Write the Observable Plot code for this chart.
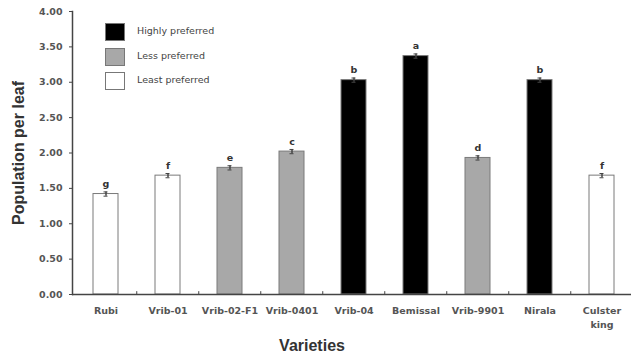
<!DOCTYPE html>
<html>
<head>
<meta charset="utf-8">
<script src="https://cdn.jsdelivr.net/npm/d3@7"></script>
<script src="https://cdn.jsdelivr.net/npm/@observablehq/plot@0.6"></script>
<style>
  html, body { margin: 0; padding: 0; background: #fff; }
  #wrap { position: relative; width: 631px; height: 358px; overflow: hidden; font-family: "Liberation Sans", Arial, sans-serif; }
  .legend { position: absolute; left: 105px; top: 23px; }
  .legend .item { position: absolute; left: 0; width: 200px; height: 18px; }
  .legend .box { position: absolute; left: 0; top: 0; width: 18px; height: 16px; border: 1px solid #777; }
  .legend .lbl { position: absolute; left: 32px; top: 2px; font-family: "DejaVu Sans", sans-serif; font-size: 9.5px; color: #444; white-space: nowrap; }
</style>
</head>
<body>
<div id="wrap"></div>
<script>
const varieties = ["Rubi", "Vrib-01", "Vrib-02-F1", "Vrib-0401", "Vrib-04", "Bemissal", "Vrib-9901", "Nirala", "Culster king"];
const population = [1.42, 1.68, 1.79, 2.02, 3.03, 3.37, 1.93, 3.03, 1.68];
const stdError = [0.03, 0.03, 0.03, 0.03, 0.03, 0.03, 0.03, 0.03, 0.03];
const letters = ["g", "f", "e", "c", "b", "a", "d", "b", "f"];
const groups = ["Least preferred", "Least preferred", "Less preferred", "Less preferred", "Highly preferred", "Highly preferred", "Less preferred", "Highly preferred", "Least preferred"];
const groupNames = ["Highly preferred", "Less preferred", "Least preferred"];
const groupColors = ["#000000", "#a8a8a8", "#ffffff"];
const yTicks = [0, 0.5, 1, 1.5, 2, 2.5, 3, 3.5, 4];

const data = varieties.map((v, i) => ({
  variety: v, value: population[i], err: stdError[i], letter: letters[i], group: groups[i]
}));

const font = "Liberation Sans, Arial, sans-serif";
const tickFont = "DejaVu Sans, sans-serif";

const chart = Plot.plot({
  width: 631,
  height: 358,
  marginLeft: 72,
  marginRight: 0,
  marginTop: 11,
  marginBottom: 64,
  style: { fontFamily: font, background: "#fff", overflow: "visible" },
  x: { domain: varieties, range: [72, 634.5], paddingInner: 0.6, paddingOuter: 0.3, label: null },
  y: { domain: [0, 4], label: null },
  color: { domain: groupNames, range: groupColors },
  marks: [
    Plot.barY(data, { x: "variety", y: "value", fill: "group", stroke: "#7a7a7a", strokeWidth: 1 }),
    Plot.ruleX(data, { x: "variety", y1: d => d.value - d.err, y2: d => d.value + d.err, stroke: "#444", strokeWidth: 1.5 }),
    Plot.tickY(data, { x: "variety", y: d => d.value + d.err, stroke: "#444", insetLeft: 10.5, insetRight: 10.5 }),
    Plot.tickY(data, { x: "variety", y: d => d.value - d.err, stroke: "#444", insetLeft: 10.5, insetRight: 10.5 }),
    Plot.text(data, { x: "variety", y: d => d.value + d.err, text: "letter", dy: -8, fontSize: 9.5, fontWeight: "bold", fill: "#333", fontFamily: tickFont }),
    Plot.ruleX(varieties.slice(1), { x: d => d, dx: -31.25, y1: 0, y2: 0.04, stroke: "#444" }),
    Plot.frame({ anchor: "left", stroke: "#444", strokeWidth: 1.5 }),
    Plot.ruleY([0], { stroke: "#444", strokeWidth: 1.5 }),
    Plot.axisY({ ticks: yTicks, tickFormat: d3.format(".2f"), tickSize: 3, tickPadding: 7, fontSize: 9.5, fontWeight: "bold", fill: "#555", stroke: "#444", fontFamily: tickFont }),
    Plot.axisX({ tickSize: 0, tickPadding: 9, fontSize: 9.5, fontWeight: "bold", fill: "#555", lineHeight: 1.5, fontFamily: tickFont,
      tickFormat: d => d === "Culster king" ? "Culster\nking" : d }),
    Plot.text(["Population per leaf"], { frameAnchor: "left", textAnchor: "middle", dx: -54, rotate: -90, text: d => d, fontSize: 16, fontWeight: "bold", fill: "#333" }),
    Plot.text(["Varieties"], { frameAnchor: "bottom", dy: 56, dx: -40, text: d => d, fontSize: 16, fontWeight: "bold", fill: "#333" })
  ]
});

const wrap = document.getElementById("wrap");
wrap.appendChild(chart);

const legend = document.createElement("div");
legend.className = "legend";
const tops = [0, 25, 49];
groupNames.forEach((g, i) => {
  const item = document.createElement("div");
  item.className = "item";
  item.style.top = tops[i] + "px";
  const box = document.createElement("div");
  box.className = "box";
  box.style.background = groupColors[i];
  const lbl = document.createElement("div");
  lbl.className = "lbl";
  lbl.textContent = g;
  item.appendChild(box);
  item.appendChild(lbl);
  legend.appendChild(item);
});
wrap.appendChild(legend);
</script>
</body>
</html>
